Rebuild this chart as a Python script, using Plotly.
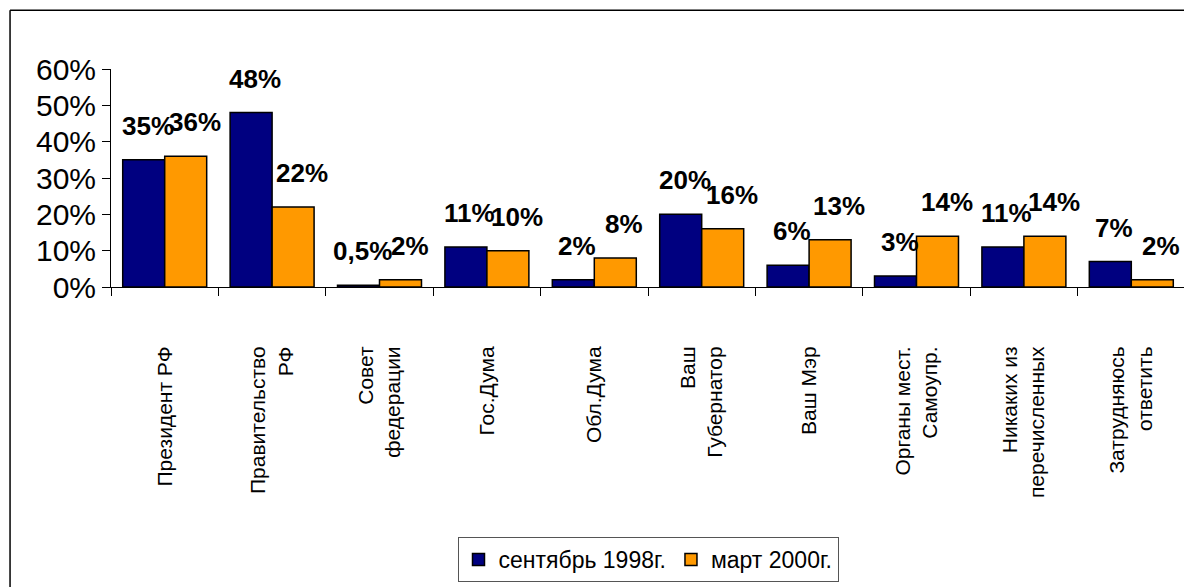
import plotly.graph_objects as go

# Survey categories (x axis), two-line labels use <br>
categories = [
    "Президент РФ", "Правительство<br>РФ", "Совет<br>федерации", "Гос.Дума",
    "Обл.Дума", "Ваш<br>Губернатор", "Ваш Мэр", "Органы мест.<br>Самоупр.",
    "Никаких из<br>перечисленных", "Затрудняюсь<br>ответить",
]

# Series values, percent
sep_1998 = [35, 48, 0.5, 11, 2, 20, 6, 3, 11, 7]
mar_2000 = [36, 22, 2, 10, 8, 16, 13, 14, 14, 2]

# Data labels as printed on the chart
sep_labels = ["35%", "48%", "0,5%", "11%", "2%", "20%", "6%", "3%", "11%", "7%"]
mar_labels = ["36%", "22%", "2%", "10%", "8%", "16%", "13%", "14%", "14%", "2%"]

series_names = ["сентябрь 1998г.", "март 2000г."]
colors = ["#000080", "#FF9900"]

FONT = "Liberation Sans, Arial, sans-serif"

fig = go.Figure()
for name, vals, col in zip(series_names, [sep_1998, mar_2000], colors):
    fig.add_trace(go.Bar(
        x=categories, y=vals, name=name,
        marker=dict(color=col, line=dict(color="black", width=1.5)),
    ))

# value labels above the bars
annotations = []
for labels, vals, shift in [(sep_labels, sep_1998, -17), (mar_labels, mar_2000, 30)]:
    for cat, val, txt in zip(categories, vals, labels):
        annotations.append(dict(
            x=cat, y=val, text=txt, showarrow=False,
            xref="x", yref="y", xanchor="center", yanchor="bottom",
            xshift=shift, yshift=17,
            font=dict(family=FONT, size=26, color="black", weight="bold"),
        ))

# chart-area frame: only the top and left edges are inside the window
frame = [
    dict(type="line", xref="paper", yref="paper", x0=-0.094, x1=1.2, y0=1.269, y1=1.269,
         line=dict(color="black", width=1.5)),
    dict(type="line", xref="paper", yref="paper", x0=-0.094, x1=-0.094, y0=-2.0, y1=1.269,
         line=dict(color="black", width=1.5)),
]

# page body has an 8px margin, so the figure is 8px smaller than the window
fig.update_layout(
    width=1184, height=579,
    margin=dict(l=103, r=7, t=61, b=299),
    paper_bgcolor="white", plot_bgcolor="white",
    barmode="group", bargap=0.218, bargroupgap=0,
    font=dict(family=FONT, color="black"),
    annotations=annotations,
    legend=dict(
        orientation="h", x=0.5, xanchor="center", y=-1.137, yanchor="top",
        font=dict(family=FONT, size=23, color="black"),
        bordercolor="#555555", borderwidth=1, bgcolor="white",
        itemwidth=30, tracegroupgap=0,
    ),
    showlegend=True,
    shapes=frame,
)

fig.update_yaxes(
    range=[0, 60], dtick=10, ticksuffix="%", automargin=False,
    showgrid=False, zeroline=False,
    showline=True, linecolor="black", linewidth=1,
    ticks="outside", ticklen=8, tickcolor="black",
    tickfont=dict(family=FONT, size=30, color="black"),
)
fig.update_xaxes(
    automargin=False,
    showgrid=False, showline=True, linecolor="black", linewidth=1,
    ticks="outside", ticklen=8, tickcolor="black", tickson="boundaries",
    tickangle=-90, ticklabelstandoff=50,
    tickfont=dict(family=FONT, size=21, color="black"),
)

fig.write_html("out.html")
